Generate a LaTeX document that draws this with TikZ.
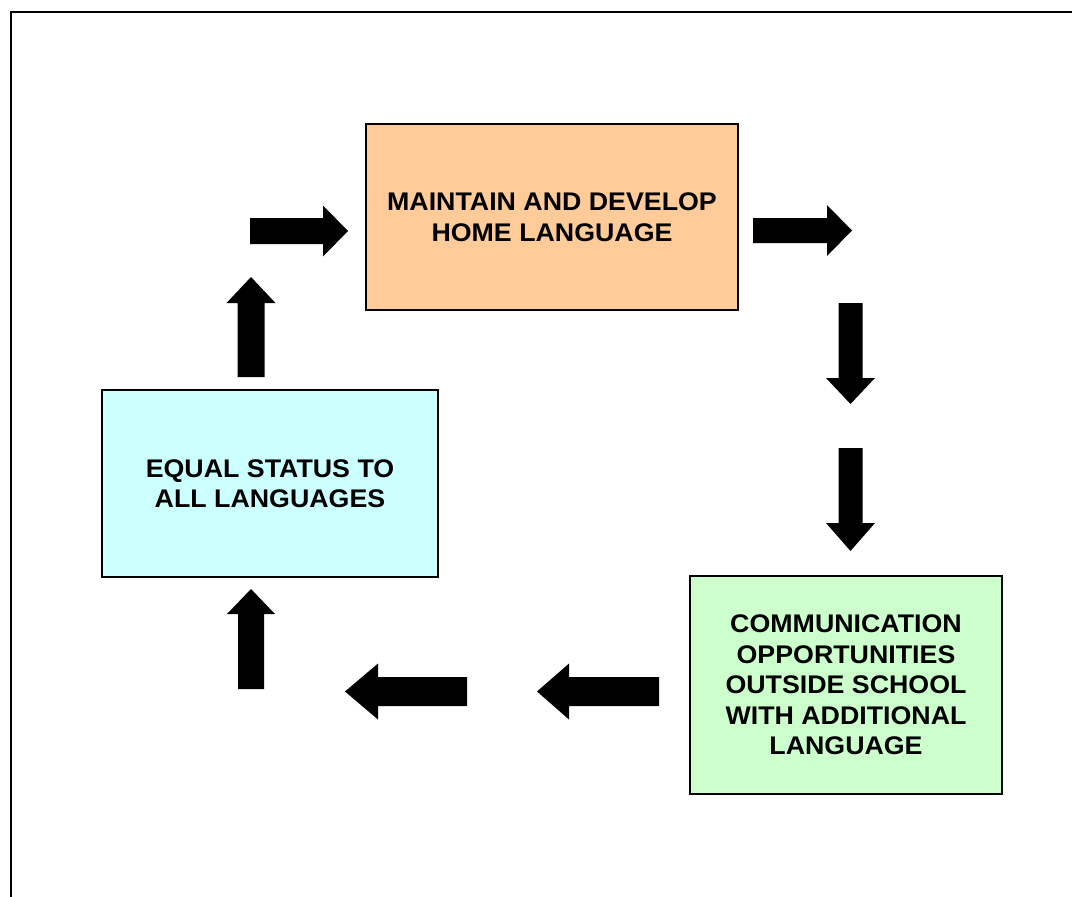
\documentclass[tikz,border=0pt]{standalone}
\usepackage{fontspec}
\setmainfont{Liberation Sans}
\newfontfamily\labelfont[FakeStretch=1.05]{Liberation Sans}
\definecolor{peach}{HTML}{FFCC99}
\definecolor{paleblue}{HTML}{CCFFFF}
\definecolor{palegreen}{HTML}{CCFFCC}
\tikzset{
  box/.style={draw=black, line width=1.8pt, rectangle, inner sep=0pt, align=center,
    font=\labelfont\fontsize{25.5}{30.5}\selectfont\bfseries},
  % block arrow drawn from its tail at the origin, pointing along +x
  pics/blockarrow/.style n args={4}{code={
    \fill[black] (0,-#2) -- (#1-#4,-#2) -- (#1-#4,-#3) -- (#1,0)
      -- (#1-#4,#3) -- (#1-#4,#2) -- (0,#2) -- cycle;
  }},
}
\begin{document}
\begin{tikzpicture}[x=1pt,y=-1pt]
\useasboundingbox (0,0) rectangle (1072,897);

% frame
\draw[line width=2.8pt] (1072,12) -- (11,12) -- (11,897);

% boxes
\node[box, fill=peach, minimum width=372pt, minimum height=186pt] (home) at (552,217)
  {MAINTAIN AND DEVELOP\\HOME LANGUAGE};
\node[box, fill=paleblue, minimum width=336pt, minimum height=187pt] (equal) at (270,483.5)
  {EQUAL STATUS TO\\ALL LANGUAGES};
\node[box, fill=palegreen, minimum width=312pt, minimum height=218pt] (comm) at (846,685)
  {COMMUNICATION\\OPPORTUNITIES\\OUTSIDE SCHOOL\\WITH ADDITIONAL\\LANGUAGE};

% arrows around the cycle
\pic (r1) at (250,231) {blockarrow={98}{13}{25.5}{25}};
\pic (r2) at (753,230.5) {blockarrow={99}{12.5}{25.5}{25}};
\pic[rotate=-90] (d1) at (850.5,303) {blockarrow={101}{12}{24.5}{26}};
\pic[rotate=-90] (d2) at (850.5,448) {blockarrow={103}{12}{24.5}{28}};
\pic[rotate=180] (l1) at (659,691.5) {blockarrow={122}{14.5}{28}{32}};
\pic[rotate=180] (l2) at (467,691.5) {blockarrow={122}{14.5}{28}{33}};
\pic[rotate=90] (u1) at (251,689) {blockarrow={100}{13}{24}{25}};
\pic[rotate=90] (u2) at (251,377) {blockarrow={100}{13.5}{24.5}{26}};
\end{tikzpicture}
\end{document}
